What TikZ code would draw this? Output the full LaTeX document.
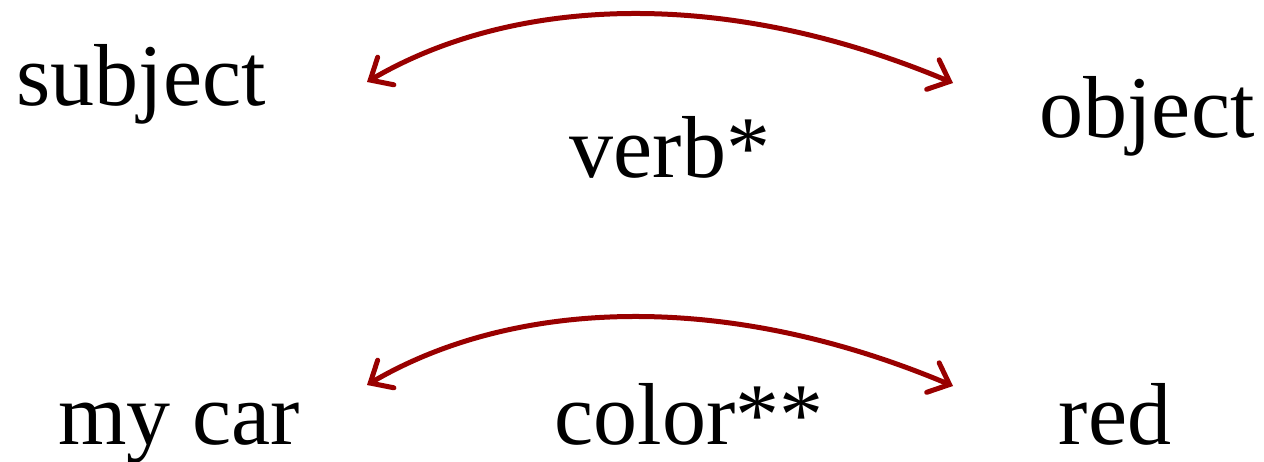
\documentclass[tikz,border=0pt]{standalone}
\usepackage{fontspec}
\setmainfont{Liberation Serif}
\usetikzlibrary{arrows.meta}
\definecolor{arrowred}{RGB}{153,0,0}
\tikzset{
  word/.style={inner sep=0pt, anchor=base, font=\fontsize{44}{50}\selectfont},
  relarrow/.style={draw=arrowred, line width=2.5pt, line cap=round,
    {Straight Barb[length=9pt,width=16pt,line cap=round]}-{Straight Barb[length=9pt,width=16pt,line cap=round]}}
}
\begin{document}
\begin{tikzpicture}[x=0.5pt,y=-0.5pt]
\useasboundingbox (0,0) rectangle (1264,461);
% top row
\node[word] (subj) at (141,105) {subject};
\node[word] (verb) at (670,177) {verb*};
\node[word] (obj) at (1147,137) {object};
\coordinate (a1) at (367,82);
\coordinate (b1) at (953,83);
\draw[relarrow] (a1) .. controls (510,-2) and (720,-15) .. (b1);
% bottom row
\node[word] (car) at (179,444) {my car};
\node[word] (color) at (689,444) {color**};
\node[word] (red) at (1115,444) {red};
\coordinate (a2) at (367,385);
\coordinate (b2) at (953,386);
\draw[relarrow] (a2) .. controls (510,301) and (720,288) .. (b2);
\end{tikzpicture}
\end{document}
